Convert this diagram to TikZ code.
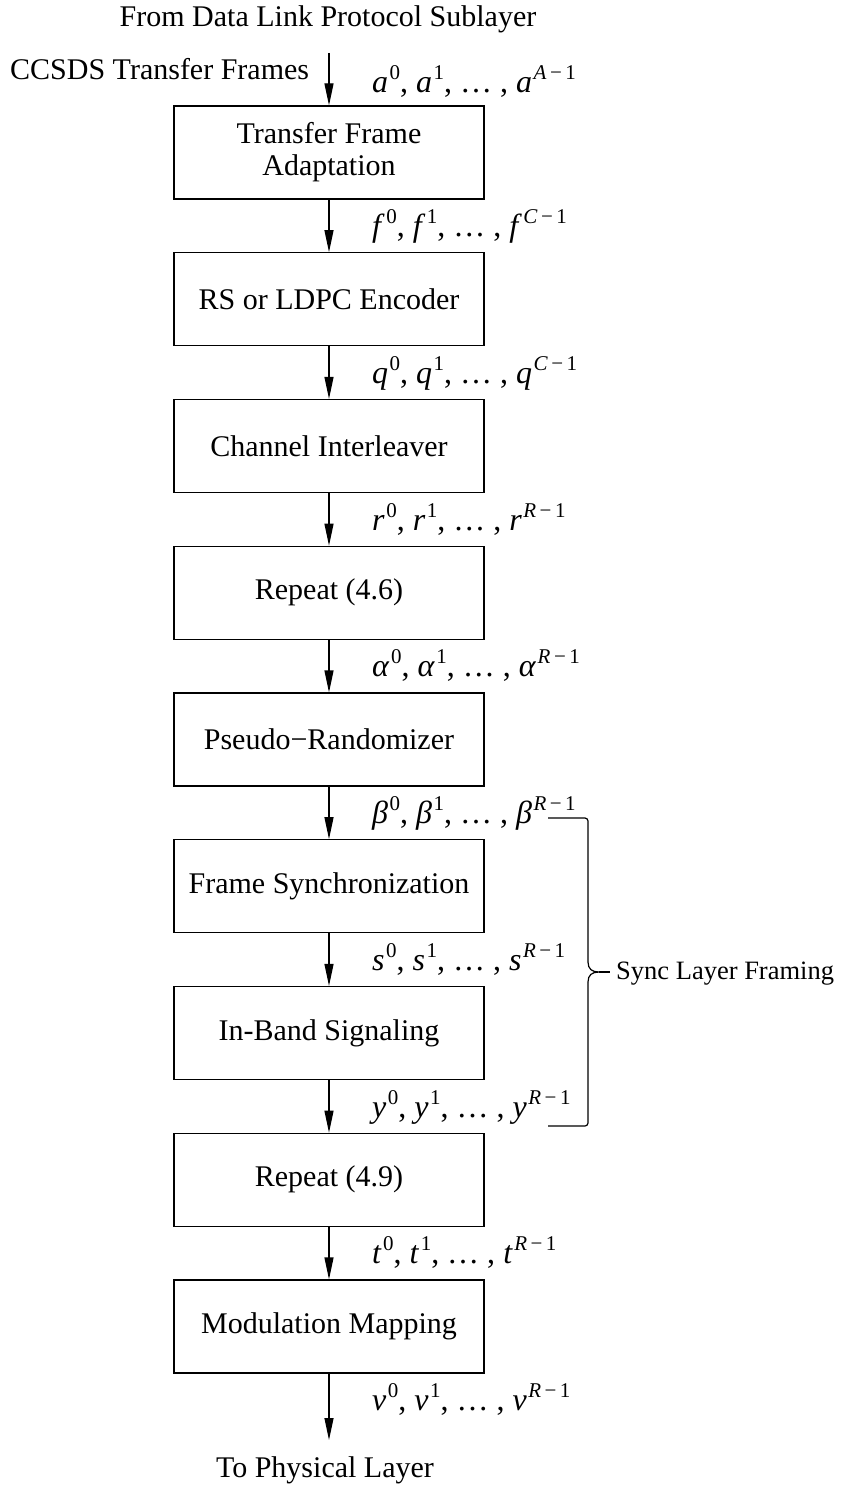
\documentclass[tikz,border=0pt]{standalone}
\usepackage{fontspec}
\setmainfont{Liberation Serif}
\usetikzlibrary{arrows.meta}

% superscript used in the sequence labels
\newcommand\supx[1]{\kern1.5pt\raisebox{13pt}{\fontsize{21}{21}\selectfont #1}}
% sequence label: x^0, x^1, ..., x^{N-1}
\newcommand\seqlab[2]{\textit{#1}\supx{0}, \textit{#1}\supx{1}, … , \textit{#1}\supx{\textit{#2}\,−\,1}}

\tikzset{
  stage/.style={draw, line width=1.2pt, rectangle, minimum width=310pt, minimum height=93pt,
    align=center, inner sep=0pt, font=\fontsize{30}{32}\selectfont},
  flow/.style={line width=1.2pt, -{Triangle[length=22pt,width=9pt]}},
  seq/.style={anchor=base west, inner sep=0pt, font=\fontsize{32}{34}\selectfont},
  caption/.style={inner sep=0pt, font=\fontsize{30}{32}\selectfont},
  brace/.style={line width=1.2pt}
}

\begin{document}
\begin{tikzpicture}[x=1pt, y=-1pt]
\useasboundingbox (0,0) rectangle (841,1485);

% header texts
\node[caption, anchor=base] (src) at (328,27) {From Data Link Protocol Sublayer};
\node[caption, anchor=base west] (ccsds) at (10,80) {CCSDS Transfer Frames};
\coordinate (in) at (329,53);

% processing stages
\node[stage] (b0) at (329,152.5)  {Transfer Frame\\Adaptation};
\node[stage] (b1) at (329,299.25) {RS or LDPC Encoder};
\node[stage] (b2) at (329,446)    {Channel Interleaver};
\node[stage] (b3) at (329,592.75) {Repeat (4.6)};
\node[stage] (b4) at (329,739.5)  {Pseudo−Randomizer};
\node[stage] (b5) at (329,886.25) {Frame Synchronization};
\node[stage] (b6) at (329,1033)   {In-Band Signaling};
\node[stage] (b7) at (329,1179.75){Repeat (4.9)};
\node[stage] (b8) at (329,1326.5) {Modulation Mapping};

% output
\coordinate (out) at (329,1440);
\node[caption, anchor=base] (dst) at (325,1477) {To Physical Layer};

% connectors
\draw[flow] (in) -- (b0.north);
\draw[flow] (b0.south) -- (b1.north);
\draw[flow] (b1.south) -- (b2.north);
\draw[flow] (b2.south) -- (b3.north);
\draw[flow] (b3.south) -- (b4.north);
\draw[flow] (b4.south) -- (b5.north);
\draw[flow] (b5.south) -- (b6.north);
\draw[flow] (b6.south) -- (b7.north);
\draw[flow] (b7.south) -- (b8.north);
\draw[flow] (b8.south) -- (out);

% sequence labels
\node[seq] (la) at (372,93)      {\seqlab{a}{A}};
\node[seq] (lf) at (372,236.5)   {\seqlab{f}{C}};
\node[seq] (lq) at (372,383.25)  {\seqlab{q}{C}};
\node[seq] (lr) at (372,530)     {\seqlab{r}{R}};
\node[seq] (lal) at (372,676.75) {\seqlab{α}{R}};
\node[seq] (lbe) at (372,823.5)  {\seqlab{β}{R}};
\node[seq] (ls) at (372,970.25)  {\seqlab{s}{R}};
\node[seq] (ly) at (372,1117)    {\seqlab{y}{R}};
\node[seq] (lt) at (372,1263.75) {\seqlab{t}{R}};
\node[seq] (lv) at (372,1410.5)  {\seqlab{v}{R}};

% brace grouping the sync layer framing steps
\coordinate (bt) at (548,818);
\coordinate (bb) at (548,1126);
\coordinate (cusp) at (599,972);
\coordinate (tip) at (610,972);
\draw[brace, rounded corners=3pt] (bt) -- (588,818) -- (588,962);
\draw[brace] (588,962) .. controls (588,969) and (592,972) .. (cusp)
  .. controls (592,972) and (588,975) .. (588,982);
\draw[brace, rounded corners=3pt] (588,982) -- (588,1126) -- (bb);
\draw[brace] (cusp) -- (tip);
\node[inner sep=0pt, font=\fontsize{26.5}{28}\selectfont, anchor=base west] (sync) at (616,979) {Sync Layer Framing};
\end{tikzpicture}
\end{document}
